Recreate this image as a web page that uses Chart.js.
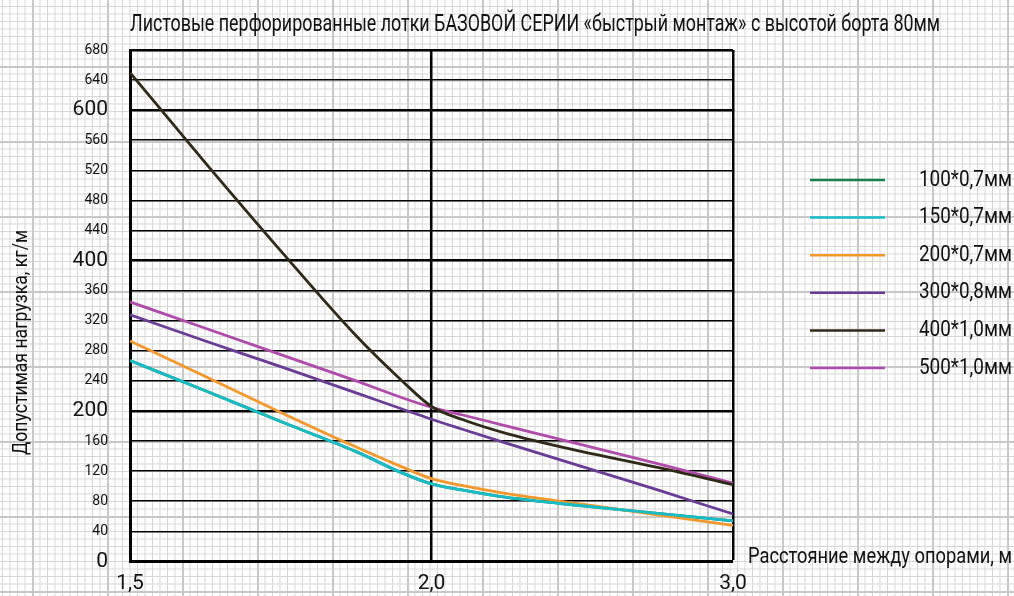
<!DOCTYPE html>
<html lang="ru">
<head>
<meta charset="utf-8">
<title>Листовые перфорированные лотки</title>
<script src="https://cdn.jsdelivr.net/npm/chart.js@4.4.1/dist/chart.umd.min.js"></script>
<style>
html, body { margin: 0; padding: 0; }
body {
  width: 1014px; height: 596px; overflow: hidden;
  background-color: #fff;
  background-image:
    linear-gradient(to right, #c8c8c8 2px, transparent 2px),
    linear-gradient(to bottom, #c8c8c8 2px, transparent 2px),
    linear-gradient(to right, #d6d6d6 1px, transparent 1px),
    linear-gradient(to bottom, #d6d6d6 1px, transparent 1px);
  background-size: 75px 75px, 75px 75px, 7.5px 7.5px, 7.5px 7.5px;
  background-position: 32px 0, 0 66px, 32px 0, 0 66px;
}
</style>
</head>
<body>
<canvas id="loadChart" width="1014" height="596"></canvas>
<script>
const FONT = 'Roboto, "Noto Sans", sans-serif';

// x axis: 1,5 m -> 0, 2,0 m -> 1, 3,0 m -> 2 (equal spacing on the original sheet)
const xLabels = ['1,5', '2,0', '3,0'];
const xPos = [0, 0.25, 0.5, 0.75, 0.9, 1, 1.1, 1.25, 1.5, 1.75, 2];

const seriesNames = ['100*0,7мм', '150*0,7мм', '200*0,7мм', '300*0,8мм', '400*1,0мм', '500*1,0мм'];
const seriesColors = ['#18804c', '#17bcc6', '#f2982c', '#6a3c97', '#2f2a18', '#b04aab'];

const load100 = [267, 227, 186, 146, 118, 103, 95, 85, 74, 64, 54];
const load150 = [267, 227, 186, 146, 118, 103, 95, 85, 74, 64, 54];
const load200 = [293, 246, 198, 152, 126, 110, 101, 90, 76, 62, 48];
const load300 = [328, 293, 259, 224, 203, 189, 176, 157, 126, 95, 63];
const load400 = [650, 530, 413, 300, 241, 206, 189, 170, 146, 125, 102];
const load500 = [345, 310, 275, 240, 218, 205, 195, 180, 155, 130, 104];

const allLoads = [load100, load150, load200, load300, load400, load500];

const chartTitle = 'Листовые перфорированные лотки БАЗОВОЙ СЕРИИ «быстрый монтаж» с высотой борта 80мм';
const yTitle = 'Допустимая нагрузка, кг/м';
const xTitle = 'Расстояние между опорами, м';

const datasets = allLoads.map((vals, i) => ({
    label: seriesNames[i],
    data: vals.map((v, j) => ({ x: xPos[j], y: v })),
    borderColor: seriesColors[i],
    backgroundColor: seriesColors[i],
    borderWidth: 2.8,
    pointRadius: 0,
    fill: false,
    cubicInterpolationMode: 'monotone',
    order: i === 0 ? 1 : 0
}));

// squeeze text horizontally so it takes the same width as on the sheet
function fitText(ctx, text, x, y, width) {
    const w = ctx.measureText(text).width;
    ctx.save();
    ctx.translate(x, y);
    ctx.scale(width / w, 1);
    ctx.fillText(text, 0, 0);
    ctx.restore();
}

const decor = {
    id: 'decor',
    afterDraw(chart) {
        const ctx = chart.ctx;
        ctx.save();
        ctx.fillStyle = '#111';
        ctx.textBaseline = 'middle';
        ctx.textAlign = 'left';

        ctx.font = '24px ' + FONT;
        fitText(ctx, chartTitle, 130, 25, 810);

        ctx.font = '22px ' + FONT;
        fitText(ctx, xTitle, 748, 557, 264);

        ctx.save();
        ctx.translate(22, 455);
        ctx.rotate(-Math.PI / 2);
        ctx.font = '20px ' + FONT;
        fitText(ctx, yTitle, 0, 0, 225);
        ctx.restore();

        ctx.font = '22px ' + FONT;
        chart.data.datasets.forEach((ds, i) => {
            const y = 180 + i * 37.6;
            ctx.strokeStyle = ds.borderColor;
            ctx.lineWidth = 2.5;
            ctx.beginPath();
            ctx.moveTo(810, y);
            ctx.lineTo(885, y);
            ctx.stroke();
            fitText(ctx, ds.label, 919, y, 93);
        });
        ctx.restore();
    }
};

new Chart(document.getElementById('loadChart'), {
    type: 'line',
    data: { datasets },
    options: {
        responsive: false,
        animation: false,
        devicePixelRatio: 1,
        layout: { padding: { top: 50, right: 281, left: 0, bottom: 0 } },
        plugins: { legend: { display: false }, tooltip: { enabled: false } },
        scales: {
            x: {
                type: 'linear', min: 0, max: 2,
                afterFit: s => { s.height = 31; },
                border: { display: true, color: '#000', width: 3 },
                grid: {
                    color: '#000', drawTicks: false,
                    lineWidth: c => c.tick && c.tick.value === 0 ? 0 : 2.5
                },
                ticks: {
                    stepSize: 1, padding: 10, color: '#111',
                    font: { family: FONT, size: 21 },
                    callback: v => xLabels[Math.round(v)]
                }
            },
            y: {
                min: 0, max: 680,
                afterFit: s => { s.width = 130; },
                border: { display: true, color: '#000', width: 3 },
                grid: {
                    color: '#000', drawTicks: false,
                    lineWidth: c => {
                        const v = c.tick ? c.tick.value : 0;
                        if (v === 0) return 0;
                        return (v % 200 === 0 || v === 680) ? 2.5 : 1.5;
                    }
                },
                ticks: {
                    stepSize: 40, padding: 22, color: '#111',
                    font: c => (c.tick && c.tick.value % 200 === 0)
                        ? { family: FONT, size: 21 }
                        : { family: FONT, size: 14 }
                }
            }
        }
    },
    plugins: [decor]
});
</script>
</body>
</html>
